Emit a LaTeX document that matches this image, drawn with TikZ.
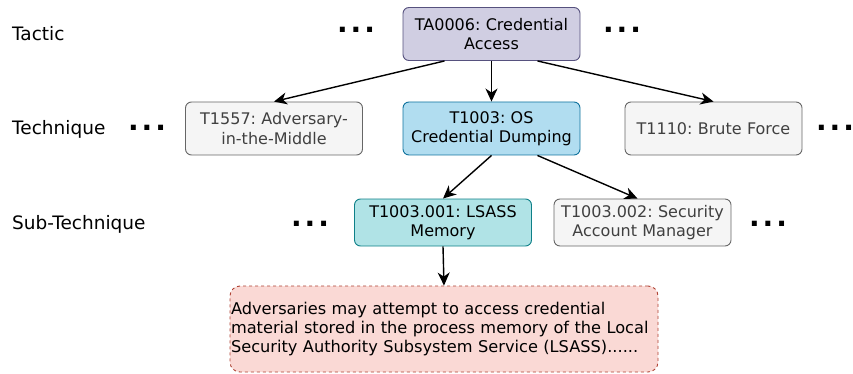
\documentclass[tikz,border=0pt]{standalone}
\usepackage{fontspec}
\setmainfont{DejaVu Sans}
\usetikzlibrary{arrows.meta,positioning}

\definecolor{tacfill}{HTML}{D0CEE2}
\definecolor{tacline}{HTML}{56517E}
\definecolor{greyfill}{HTML}{F5F5F5}
\definecolor{greyline}{HTML}{666666}
\definecolor{bluefill}{HTML}{B1DDF0}
\definecolor{blueline}{HTML}{10739E}
\definecolor{tealfill}{HTML}{B0E3E6}
\definecolor{tealline}{HTML}{0E8088}
\definecolor{redfill}{HTML}{FAD9D5}
\definecolor{redline}{HTML}{AE4132}

\newcommand{\moredots}{.\kern3pt.\kern3pt.}
\frenchspacing

\begin{document}
\begin{tikzpicture}[x=1pt,y=-1pt,>={Stealth[length=13pt,width=12pt,inset=4pt]},
  box/.style={draw,rounded corners=6pt,line width=0.9pt,minimum width=177pt,minimum height=53pt,
    text width=172pt,align=center,inner sep=1pt,font=\fontsize{16}{19.5}\selectfont},
  subbox/.style={box,minimum height=47pt},
  tactic/.style={box,fill=tacfill,draw=tacline},
  other/.style={fill=greyfill,draw=greyline,text=black!75},
  chosen/.style={fill=bluefill,draw=blueline},
  subchosen/.style={fill=tealfill,draw=tealline},
  desc/.style={draw=redline,fill=redfill,dashed,rounded corners=10pt,line width=0.9pt,
    minimum width=428pt,minimum height=86pt,text width=426pt,align=left,inner sep=1pt,
    font=\fontsize{16.2}{19}\selectfont},
  level/.style={anchor=base west,inner sep=0pt,font=\fontsize{18.5}{20}\selectfont},
  more/.style={anchor=base,font=\fontsize{28}{28}\selectfont\bfseries},
  link/.style={->,line width=1.4pt}]
\useasboundingbox (0,0) rectangle (853,374);

% row labels
\node[level] (lbltac)  at (12,41)  {Tactic};
\node[level] (lbltech) at (12,135) {Technique};
\node[level] (lblsub)  at (12,229) {Sub-Technique};

% tactic
\node[tactic] (ta0006) at (491.5,34) {TA0006: Credential\\Access};

% techniques
\node[box,other]  (t1557) at (274,128.5)   {T1557: Adversary-\\in-the-Middle};
\node[box,chosen] (t1003) at (491.5,128.5) {T1003: OS\\Credential Dumping};
\node[box,other]  (t1110) at (713.5,128.5) {T1110: Brute Force};

% sub-techniques
\node[subbox,subchosen] (t1003a) at (443,222.5) {T1003.001: LSASS\\Memory};
\node[subbox,other]     (t1003b) at (642.5,222.5) {T1003.002: Security\\Account Manager};

% description
\node[desc] (lsassdesc) at (444,329) {Adversaries may attempt to access credential\\material stored in the process memory of the Local\\Security Authority Subsystem Service (LSASS)......};

% the rest of each row
\node[more] (dotsa) at (356,33)  {\moredots};
\node[more] (dotsb) at (622,33)  {\moredots};
\node[more] (dotsc) at (147,131) {\moredots};
\node[more] (dotsd) at (835,131) {\moredots};
\node[more] (dotse) at (310,226) {\moredots};
\node[more] (dotsf) at (768,226) {\moredots};

\path[link] ([xshift=42pt]ta0006.south west) edge (t1557.north)
            (ta0006.south) edge (t1003.north)
            ([xshift=-43pt]ta0006.south east) edge (t1110.north)
            (t1003.south) edge (t1003a.north)
            ([xshift=-43pt]t1003.south east) edge ([xshift=-5pt]t1003b.north)
            (t1003a.south) edge (lsassdesc.north);
\end{tikzpicture}
\end{document}
